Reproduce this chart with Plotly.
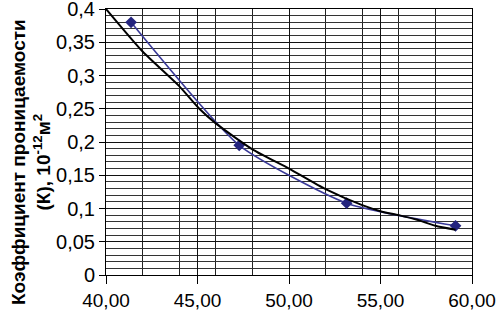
import plotly.graph_objects as go

# measured points
x_points = [41.37, 47.28, 53.15, 59.10]
y_points = [0.380, 0.195, 0.108, 0.074]

# trend line
trend_x = [40.0, 42.0, 44.0, 45.1, 46.0, 48.0, 50.0, 52.0, 54.0, 55.0, 56.0, 57.0, 58.0, 59.1]
trend_y = [0.400, 0.336, 0.284, 0.250, 0.228, 0.189, 0.160, 0.129, 0.105, 0.096, 0.090, 0.083, 0.074, 0.068]

x_ticks = [40, 45, 50, 55, 60]
y_ticks = [0, 0.05, 0.1, 0.15, 0.2, 0.25, 0.3, 0.35, 0.4]
y_labels = ["0", "0,05", "0,1", "0,15", "0,2", "0,25", "0,3", "0,35", "0,4"]
y_title = "<b>Коэффициент проницаемости</b><br><b>(К), 10<sup>-12</sup>м<sup>2</sup></b>"

FONT = "Liberation Sans, Arial, sans-serif"

fig = go.Figure()
fig.add_trace(go.Scatter(
    x=x_points, y=y_points, mode="lines+markers",
    line=dict(color="#3a3a98", width=1.6, shape="spline", smoothing=0.55),
    marker=dict(symbol="diamond", size=9, color="#24247e"),
    showlegend=False, hoverinfo="skip"))
fig.add_trace(go.Scatter(
    x=trend_x, y=trend_y, mode="lines",
    line=dict(color="#000000", width=2, shape="spline", smoothing=0.6),
    showlegend=False, hoverinfo="skip"))

fig.update_layout(
    width=499, height=318,
    margin=dict(l=106, r=27, t=9, b=43, autoexpand=False),
    paper_bgcolor="white", plot_bgcolor="white",
    separators=", ",
    font=dict(family=FONT, size=19, color="#000"),
    xaxis=dict(
        range=[40, 60], tickvals=x_ticks, tickformat=".2f", automargin=False,
        ticklabeloverflow="allow",
        showgrid=True, gridcolor="#111", gridwidth=1,
        minor=dict(dtick=2, tick0=40, showgrid=True, gridcolor="#222", gridwidth=1, ticks=""),
        showline=True, linecolor="#000", linewidth=1, mirror=True,
        ticks="outside", ticklen=8, tickcolor="#000",
        tickfont=dict(family=FONT, size=19), zeroline=False),
    yaxis=dict(
        range=[0, 0.4], tickvals=y_ticks, ticktext=y_labels, automargin=False,
        ticklabeloverflow="allow",
        showgrid=True, gridcolor="#111", gridwidth=1,
        minor=dict(dtick=0.01, tick0=0, showgrid=True, gridcolor="#333", gridwidth=1, ticks=""),
        showline=True, linecolor="#000", linewidth=1, mirror=True,
        ticks="outside", ticklen=6, tickcolor="#000",
        tickfont=dict(family=FONT, size=20), zeroline=False),
)

fig.add_annotation(
    text=y_title, xref="paper", yref="paper",
    x=(31 - 106) / 366, y=(275 - 162) / 266,
    xanchor="center", yanchor="middle", textangle=-90, showarrow=False,
    font=dict(family=FONT, size=19, color="#000"), align="center")

fig.write_html("out.html", config={"displayModeBar": False},
               post_script="document.body.style.margin='0';")
